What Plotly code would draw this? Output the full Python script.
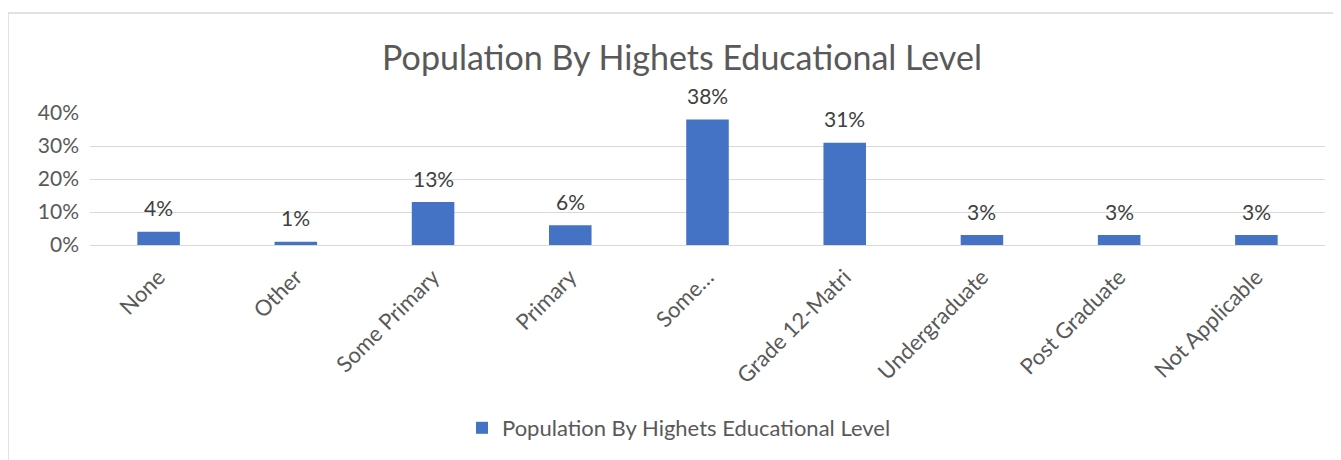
import plotly.graph_objects as go

categories = ["None", "Other", "Some Primary", "Primary", "Some…", "Grade 12-Matri",
              "Undergraduate", "Post Graduate", "Not Applicable"]
values = [0.04, 0.01, 0.13, 0.06, 0.38, 0.31, 0.03, 0.03, 0.03]
series_name = "Population By Highets Educational Level"
title_text = "Population By Highets Educational Level"
y_ticks = [0, 0.1, 0.2, 0.3, 0.4]
y_tick_labels = ["0%", "10%", "20%", "30%", "40%"]

# page body has an 8px margin; work in page pixels and convert
OFF = 8
W, H = 1341 - OFF, 460 - OFF
L, R, T = 90 - OFF, 16, 113 - OFF
B = H - (245 - OFF)
pw = W - L - R
ph = H - T - B

def px_x(x):  # page pixel -> paper x
    return (x - OFF - L) / pw

def px_y(y):  # page pixel -> paper y
    return (H - B - (y - OFF)) / ph

FONT = "Lato, 'Open Sans', sans-serif"

fig = go.Figure()
fig.add_trace(go.Bar(
    x=categories, y=values, name=series_name,
    marker=dict(color="#4472C4", line=dict(width=0)),
    showlegend=True,
))

for c, v in zip(categories, values):
    fig.add_annotation(x=c, y=v, text=f"{round(v * 100)}%", showarrow=False,
                       yanchor="middle", yshift=24,
                       font=dict(family=FONT, size=21, color="#404040"))

fig.update_layout(
    width=W, height=H,
    margin=dict(l=L, r=R, t=T, b=B),
    paper_bgcolor="white", plot_bgcolor="white",
    font=dict(family=FONT, color="#595959"),
    title=dict(text=title_text, x=(682 - OFF) / W, xanchor="center", xref="container",
               y=1 - (58 - OFF) / H, yref="container", yanchor="middle",
               font=dict(family=FONT, size=34, color="#595959")),
    bargap=0.69,
    showlegend=True,
    legend=dict(orientation="h", x=px_x(679), xanchor="center",
                y=px_y(428), yanchor="middle",
                font=dict(family=FONT, size=22, color="#595959"),
                itemsizing="constant", itemwidth=30),
    xaxis=dict(showgrid=False, showline=False, ticks="", tickangle=-45,
               ticklabelstandoff=14,
               tickfont=dict(family=FONT, size=22, color="#595959")),
    yaxis=dict(range=[0, 0.4], tickvals=y_ticks, ticktext=y_tick_labels,
               showgrid=True, gridcolor="#D9D9D9", gridwidth=1.3,
               zeroline=True, zerolinecolor="#D9D9D9", zerolinewidth=1.3,
               showline=False, ticks="", ticklabelstandoff=10,
               tickfont=dict(family=FONT, size=21, color="#595959")),
    shapes=[dict(type="rect", xref="paper", yref="paper",
                 x0=px_x(8), x1=px_x(1500), y0=px_y(600), y1=px_y(13),
                 line=dict(color="#D9D9D9", width=1.5), fillcolor="rgba(0,0,0,0)",
                 layer="below")],
)

fig.write_html("out.html")
